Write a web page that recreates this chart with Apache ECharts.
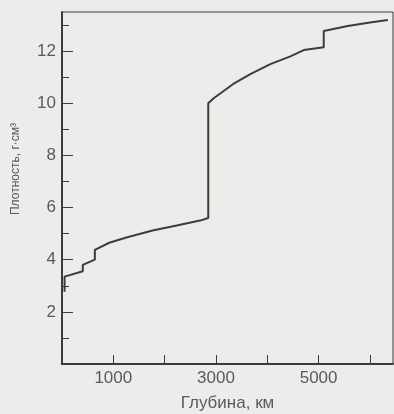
<!DOCTYPE html>
<html>
<head>
<meta charset="utf-8">
<script src="https://cdn.jsdelivr.net/npm/echarts@6/dist/echarts.min.js"></script>
<style>
  html, body { margin: 0; padding: 0; background: #ececea; }
  #chart { width: 394px; height: 414px; }
</style>
</head>
<body>
<div id="chart"></div>
<script>
// глубина (км) и плотность (г/см3)
const depth = [50, 50, 405, 405, 640, 640, 920, 1255, 1765, 2235, 2690, 2850, 2850, 2950, 3330, 3670, 4060, 4450, 4710, 5100, 5100, 5570, 6000, 6350];
const density = [2.77, 3.35, 3.56, 3.8, 4.0, 4.38, 4.65, 4.85, 5.12, 5.31, 5.5, 5.6, 10.0, 10.18, 10.73, 11.12, 11.5, 11.8, 12.04, 12.15, 12.77, 12.96, 13.1, 13.19];

const xTicks = [1000, 2000, 3000, 4000, 5000, 6000];
const xLabels = [1000, 3000, 5000];
const yTicks = [2, 4, 6, 8, 10, 12];
const yMinorTicks = [1, 3, 5, 7, 9, 11, 13];

const ink = '#3c3c3a';
const textColor = '#5a5a58';
const font = 'Liberation Sans';

const chart = echarts.init(document.getElementById('chart'));

chart.setOption({
  backgroundColor: '#ececea',
  animation: false,
  grid: {
    left: 62,
    right: 1,
    top: 12,
    bottom: 50,
    outerBoundsMode: 'none',
    show: true,
    borderColor: ink,
    borderWidth: 1,
  },
  xAxis: {
    type: 'value',
    min: 0,
    max: 6450,
    splitLine: { show: false },
    axisLine: { lineStyle: { color: ink, width: 2 } },
    axisTick: {
      inside: true,
      length: 9,
      customValues: xTicks,
      lineStyle: { color: ink, width: 1 },
    },
    axisLabel: {
      customValues: xLabels,
      formatter: v => String(v),
      color: textColor,
      fontFamily: font,
      fontSize: 17,
      margin: 6,
    },
    name: 'Глубина, км',
    nameLocation: 'middle',
    nameGap: 31,
    nameTextStyle: { color: textColor, fontFamily: font, fontSize: 17 },
  },
  yAxis: [
    {
      type: 'value',
      min: 0,
      max: 13.5,
      splitLine: { show: false },
      axisLine: { lineStyle: { color: ink, width: 2 } },
      axisTick: {
        inside: true,
        length: 11,
        customValues: yTicks,
        lineStyle: { color: ink, width: 1 },
      },
      axisLabel: {
        customValues: yTicks,
        color: textColor,
        fontFamily: font,
        fontSize: 17,
        margin: 6,
      },
    },
    {
      // короткие штрихи на нечётных значениях
      type: 'value',
      position: 'left',
      min: 0,
      max: 13.5,
      splitLine: { show: false },
      axisLine: { show: false },
      axisTick: {
        inside: true,
        length: 7,
        customValues: yMinorTicks,
        lineStyle: { color: ink, width: 1 },
      },
      axisLabel: { show: false },
    },
  ],
  graphic: [
    {
      type: 'text',
      x: 16,
      y: 169,
      rotation: Math.PI / 2,
      style: {
        text: 'Плотность, г·см³',
        fill: textColor,
        font: '12px "Liberation Sans"',
        align: 'center',
        verticalAlign: 'middle',
      },
    },
  ],
  series: [
    {
      type: 'line',
      data: depth.map((d, i) => [d, density[i]]),
      showSymbol: false,
      lineStyle: { color: ink, width: 2 },
    },
  ],
});
</script>
</body>
</html>
